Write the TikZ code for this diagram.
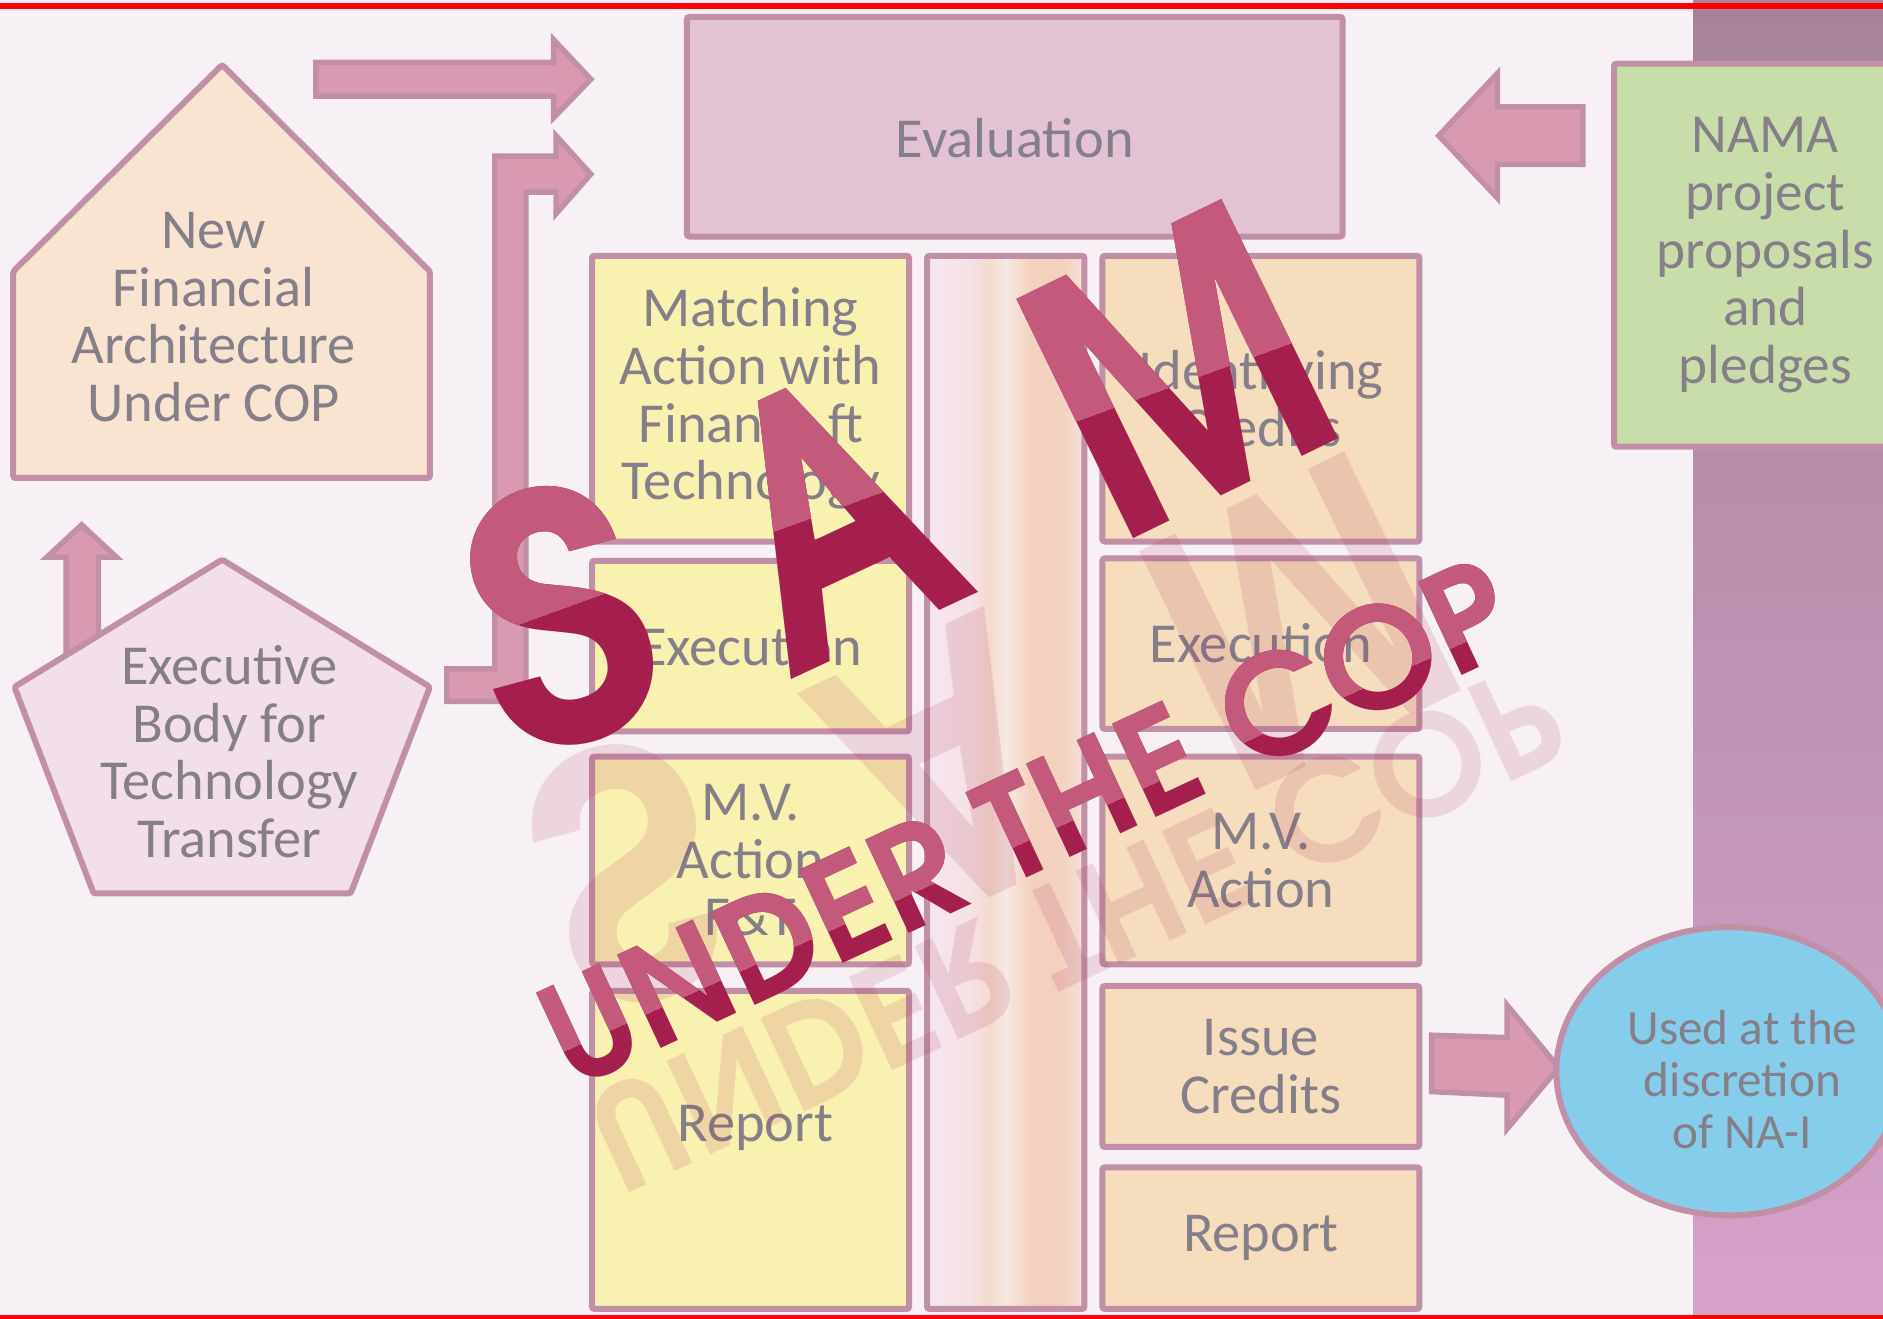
\documentclass[tikz,border=0pt]{standalone}
\usepackage{fontspec}
\setmainfont{Carlito}
\newfontfamily\stampfont{TeX Gyre Adventor}
\usetikzlibrary{shapes.geometric}
\definecolor{paper}{HTML}{F7F1F5}
\definecolor{edge}{HTML}{C290A6}
\definecolor{ink}{HTML}{857F89}
\definecolor{evalfill}{HTML}{E3C3D3}
\definecolor{housefill}{HTML}{F9E4D1}
\definecolor{pentfill}{HTML}{F3DFE9}
\definecolor{lemon}{HTML}{F9F1B0}
\definecolor{peach}{HTML}{F6DDBE}
\definecolor{sage}{HTML}{C9DDAA}
\definecolor{sky}{HTML}{86CDEC}
\definecolor{arrowfill}{HTML}{D899B1}
\definecolor{bandtop}{HTML}{A58399}
\definecolor{bandbot}{HTML}{D7A1CB}
\definecolor{stamp}{HTML}{A41F4E}
\definecolor{stamplight}{HTML}{C35A7C}
\definecolor{midA}{HTML}{F6E6EE}
\definecolor{midB}{HTML}{F5E2E6}
\definecolor{midC}{HTML}{F5DACE}
\definecolor{midD}{HTML}{F7E9E3}
\definecolor{midE}{HTML}{F4D0BF}
\definecolor{midF}{HTML}{F6E0D6}
\pgfdeclarehorizontalshading{midcol}{100bp}{color(0bp)=(midA); color(25bp)=(midA); color(38bp)=(midB); color(45bp)=(midC); color(50bp)=(midD); color(58bp)=(midE); color(67bp)=(midE); color(75bp)=(midF); color(100bp)=(midF)}
\begin{document}
\begin{tikzpicture}[x=1pt, y=-1pt,
  box/.style = {draw=edge, line width=5pt, rounded corners=2pt, inner sep=0pt},
  txt/.style = {text=ink, align=center, font=\fontsize{47}{48}\selectfont},
  blockarrow/.style = {draw=edge, fill=arrowfill, line width=4.5pt},
  bigstamp/.style = {text=stamp, inner sep=0pt, anchor=base, font=\stampfont\bfseries\fontsize{300}{300}\selectfont},
  smallstamp/.style = {text=stamp, inner sep=0pt, anchor=base west, rotate=25, font=\stampfont\bfseries\fontsize{116}{116}\selectfont}]
  \useasboundingbox (0,0) rectangle (1568,1098);
  \clip (0,0) rectangle (1568,1098);
  \fill[paper] (0,0) rectangle (1568,1098);
  \shade[top color=bandtop, bottom color=bandbot] (1410,0) rectangle (1568,1098);

  % block arrows
  \draw[blockarrow] (263,52) -- (461,52) -- (461,33) -- (492,66) -- (461,98) -- (461,80) -- (263,80) -- cycle;
  \draw[blockarrow] (372,584) -- (372,557) -- (412,557) -- (412,130) -- (463,130) -- (463,113)
    -- (492,145) -- (463,178) -- (463,160) -- (438,160) -- (438,584) -- cycle;
  \draw[blockarrow] (55,550) -- (55,464) -- (39,464) -- (68,437) -- (97,464) -- (82,464) -- (82,550) -- cycle;
  \draw[blockarrow] (1198,113) -- (1247,61) -- (1247,89) -- (1318,89) -- (1318,137) -- (1247,137) -- (1247,165) -- cycle;
  \draw[blockarrow] (1192,862) -- (1255,864) -- (1255,837) -- (1298,889) -- (1255,940) -- (1255,912) -- (1192,909) -- cycle;

  % left shapes
  \draw[box, fill=housefill] (11,226) -- (185,54) -- (358,226) -- (358,398) -- (11,398) -- cycle;
  \node[txt] (1) at (178,264) {New\\Financial\\Architecture\\Under COP};
  \draw[box, fill=pentfill] (12,572) -- (185,466) -- (358,572) -- (292,744) -- (78,744) -- cycle;
  \node[txt] (2) at (191,626) {Executive\\Body for\\Technology\\Transfer};

  % top and right
  \node[box, fill=evalfill, minimum width=546pt, minimum height=183pt] (3) at (845,105.5) {};
  \node[txt] (4) at (845,115) {Evaluation};
  \node[box, fill=sage, minimum width=252pt, minimum height=319pt, txt, font=\fontsize{46}{48}\selectfont] (5) at (1470,212.5) {NAMA\\project\\proposals\\and\\pledges};
  \node[draw=edge, line width=5pt, fill=sky, ellipse, minimum width=288pt, minimum height=240pt] (6) at (1440,892) {};
  \node[text=ink, align=center, font=\fontsize{41}{43}\selectfont] (7) at (1451,899) {Used at the\\discretion\\of NA-I};

  % columns
  \node[box, fill=lemon, minimum width=264pt, minimum height=238pt, txt] (8) at (625,332) {Matching\\Action with\\Finance ft\\Technology};
  \node[box, fill=lemon, minimum width=264pt, minimum height=142pt, txt] (9) at (625,538) {Execution};
  \node[box, fill=lemon, minimum width=264pt, minimum height=173pt, txt] (10) at (625,716.5) {M.V.\\Action\\F\&T};
  \node[box, fill=lemon, minimum width=264pt, minimum height=265pt] (11) at (625,957.5) {};
  \node[txt] (12) at (629,939) {Report};
  \node[box, shading=midcol, minimum width=131pt, minimum height=877pt] (13) at (837.5,651.5) {};
  \node[box, fill=peach, minimum width=264pt, minimum height=238pt, txt] (14) at (1050,332) {Identifying\\Credits};
  \node[box, fill=peach, minimum width=264pt, minimum height=142pt, txt] (15) at (1050,536) {Execution};
  \node[box, fill=peach, minimum width=264pt, minimum height=173pt, txt] (16) at (1050,716.5) {M.V.\\Action};
  \node[box, fill=peach, minimum width=264pt, minimum height=134pt, txt] (17) at (1050,888) {Issue\\Credits};
  \node[box, fill=peach, minimum width=264pt, minimum height=118pt, txt] (18) at (1050,1031) {Report};

  % stamp reflection
  \begin{scope}[opacity=0.13]
    \node[bigstamp, rotate=15, scale=.95, yscale=-1] (19) at (497,626) {S};
    \node[bigstamp, rotate=25, xscale=.79, yscale=-1] (20) at (742,541) {A};
    \node[bigstamp, rotate=26, xscale=.82, yscale=-1] (21) at (1033,418) {M};
    \node[smallstamp, yscale=-1] (22) at (481,919) {UNDER THE COP};
  \end{scope}

  % stamp
  \node[bigstamp, rotate=15, scale=.95] (23) at (494,614) {S};
  \node[bigstamp, rotate=25, xscale=.79] (24) at (737,530) {A};
  \node[bigstamp, rotate=26, xscale=.82] (25) at (1028,407) {M};
  \node[smallstamp] (26) at (476,908) {UNDER THE COP};
  \begin{scope}
    \clip (300,568) -- (1200,240) -- (1200,0) -- (300,0) -- cycle;
    \node[bigstamp, text=stamplight, rotate=15, scale=.95] (27) at (494,614) {S};
    \node[bigstamp, text=stamplight, rotate=25, xscale=.79] (28) at (737,530) {A};
    \node[bigstamp, text=stamplight, rotate=26, xscale=.82] (29) at (1028,407) {M};
  \end{scope}
  \begin{scope}
    \clip (420,898) -- (1300,498) -- (1300,400) -- (420,400) -- cycle;
    \node[smallstamp, text=stamplight] (30) at (476,908) {UNDER THE COP};
  \end{scope}

  \fill[red] (0,2.5) rectangle (1568,7.5);
  \fill[red] (0,1095) rectangle (1568,1098);
\end{tikzpicture}
\end{document}
